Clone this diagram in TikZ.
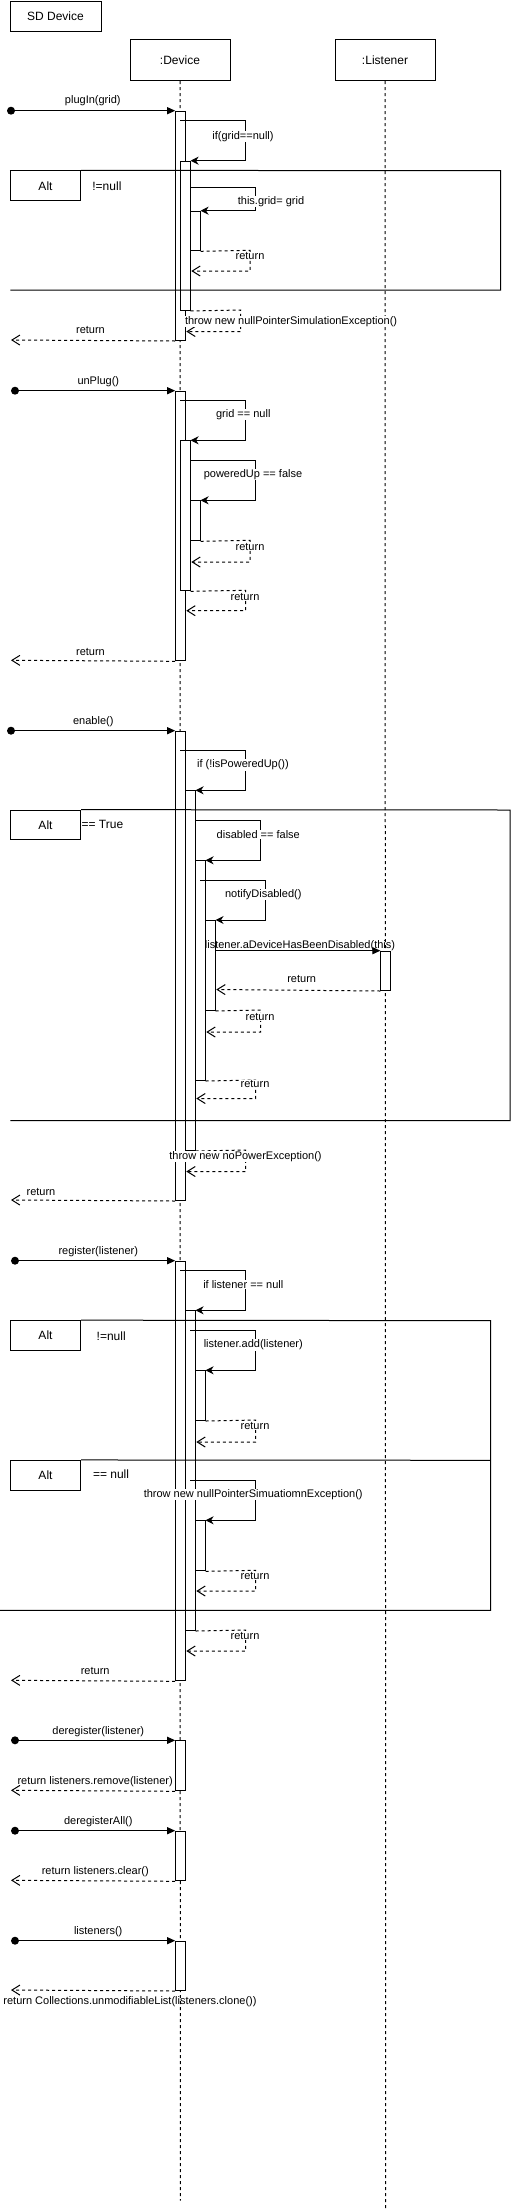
\documentclass[tikz,border=0pt]{standalone}
\usepackage{fontspec}
\setmainfont{Liberation Sans}
\usetikzlibrary{arrows.meta}
\begin{document}
\begin{tikzpicture}[x=1pt,y=-1pt,
 lbl/.style={font=\fontsize{11}{13}\selectfont, inner sep=0.5pt},
 wlbl/.style={lbl, fill=white},
 hdr/.style={draw, line width=1pt, font=\fontsize{12}{14}\selectfont, inner sep=0},
 actbox/.style={draw, fill=white, line width=1pt, minimum width=9.6pt, inner sep=0, anchor=north},
 life/.style={line width=1pt, dash pattern=on 3pt off 3pt},
 call/.style={line width=1pt, -{Triangle[length=8pt,width=7pt]}},
 selfmsg/.style={line width=1pt, -{Stealth[length=8pt,width=8pt]}},
 ret/.style={line width=1pt, dash pattern=on 3pt off 3pt, -{Straight Barb[length=8pt,width=10pt]}},
 frm/.style={line width=1pt},
 startdot/.style={circle, fill=black, inner sep=0, minimum size=8pt},
 altbox/.style={draw, fill=white, line width=1pt, minimum width=70.4pt, minimum height=29.7pt, inner sep=0, font=\fontsize{12}{14}\selectfont},
 cond/.style={font=\fontsize{12}{14}\selectfont, inner sep=0.5pt, anchor=west}
]
\useasboundingbox (0,0) rectangle (512,2211);

% headers
\node[hdr, minimum width=91pt, minimum height=30pt] (sd) at (55.5,16) {SD Device};
\node[hdr, minimum width=100pt, minimum height=40.7pt] (dev) at (180,60.3) {:Device};
\node[hdr, minimum width=100pt, minimum height=40.7pt] (lis) at (385,60.3) {:Listener};
\coordinate (devend) at (180.3,2200.7);
\coordinate (lisend) at (385.7,2208.3);
\draw[life] (dev.south) -- (devend);
\draw[life] (lis.south) -- (lisend);

% ---------- activations ----------
% plugIn
\node[actbox, minimum height=229.3pt] (pA1) at (180.5,110.7) {};
\node[actbox, minimum height=149.3pt] (pA2) at (185.3,160.7) {};
\node[actbox, minimum height=39.6pt] (pA3) at (195.3,210.7) {};
% unPlug
\node[actbox, minimum height=269.6pt] (uA1) at (180.5,390.7) {};
\node[actbox, minimum height=150pt] (uA2) at (185.3,440.3) {};
\node[actbox, minimum height=40pt] (uA3) at (195.3,500.3) {};
% enable
\node[actbox, minimum height=469.3pt] (eA1) at (180.5,730.7) {};
\node[actbox, minimum height=359.7pt] (eA2) at (190.3,790.3) {};
\node[actbox, minimum height=219.7pt] (eA3) at (200.3,860.3) {};
\node[actbox, minimum height=90pt] (eA4) at (210.3,920) {};
\node[actbox, minimum height=39.3pt] (eL) at (385.7,950.7) {};
% register
\node[actbox, minimum height=419.6pt] (rA1) at (180.5,1260.7) {};
\node[actbox, minimum height=319.7pt] (rA2) at (190.3,1310.3) {};
\node[actbox, minimum height=49.7pt] (rA3) at (200.3,1370.3) {};
\node[actbox, minimum height=50pt] (rA4) at (200.3,1520.3) {};
% others
\node[actbox, minimum height=50pt] (dA) at (180.5,1740.3) {};
\node[actbox, minimum height=49.6pt] (daA) at (180.5,1830.7) {};
\node[actbox, minimum height=49.3pt] (lA) at (180.5,1940.7) {};

% ---------- frames ----------
\node[altbox] (alt1) at (45.5,185.7) {Alt};
\node[cond] (c1) at (91.7,186) {!=null};
\draw[frm] (alt1.north east) -- (500.7,170.7) -- (500.7,290) -- (10.3,290);
\draw[frm] (alt1.north west) -- (alt1.north east);

\node[altbox] (alt2) at (45.5,825) {Alt};
\node[cond] (c2) at (80.9,824) {== True};
\draw[frm] (alt2.north east) -- (510,810) -- (510,1120.7) -- (10.3,1120.7);

\node[altbox] (alt3) at (45.5,1335.5) {Alt};
\node[cond] (c3) at (96,1336) {!=null};
\draw[frm] (alt3.north east) -- (490.7,1320.7) -- (490.7,1610.3) -- (0,1610.3);
\node[altbox] (alt4) at (45.5,1475.3) {Alt};
\node[cond] (c4) at (92.3,1473.7) {== null};
\draw[frm] (alt4.north east) -- (490.7,1460.3);

% ---------- plugIn ----------
\node[startdot] (d1) at (11,110.7) {};
\draw[call] (d1) -- (pA1.north west);
\node[lbl] at (92.8,100.7) {plugIn(grid)};
\coordinate (s1) at (180.3,120.7);
\draw[selfmsg] (s1) -- (245.7,120.7) -- (245.7,160.7) -- (pA2.north east);
\node[wlbl] at (243,136.7) {if(grid==null)};
\coordinate (s2) at (190.3,187.3);
\draw[selfmsg] (s2) -- (255.7,187.3) -- (255.7,210.7) -- (pA3.north east);
\node[wlbl] at (271,201.7) {this.grid= grid};
\coordinate (r1) at (191.3,271);
\draw[ret] (pA3.south east) -- (250,250.3) -- (250,271) -- (r1);
\node[wlbl] at (250,256.3) {return};
\coordinate (r2) at (186.3,331.5);
\draw[ret] (pA2.south east) -- (240.7,310) -- (240.7,331.5) -- (r2);
\node[wlbl, anchor=west] at (184.3,321.7) {throw new nullPointerSimulationException()};
\coordinate (e1) at (11,340);
\draw[ret] (pA1.south west) -- (e1);
\node[lbl] at (90.5,330) {return};

% ---------- unPlug ----------
\node[startdot] (d2) at (15,390.7) {};
\draw[call] (d2) -- (uA1.north west);
\node[lbl] at (98.3,381.7) {unPlug()};
\coordinate (s3) at (180.3,400.7);
\draw[selfmsg] (s3) -- (245.7,400.7) -- (245.7,440.3) -- (uA2.north east);
\node[wlbl] at (243.3,414.3) {grid == null};
\coordinate (s4) at (190.3,460.3);
\draw[selfmsg] (s4) -- (255.7,460.3) -- (255.7,500.3) -- (uA3.north east);
\node[wlbl] at (253,474.3) {poweredUp == false};
\coordinate (r3) at (191.3,562);
\draw[ret] (uA3.south east) -- (250,540.3) -- (250,562) -- (r3);
\node[wlbl] at (250,546.5) {return};
\coordinate (r4) at (186.3,610.7);
\draw[ret] (uA2.south east) -- (245.7,590.3) -- (245.7,610.7) -- (r4);
\node[wlbl] at (245,596.7) {return};
\coordinate (e2) at (11,660.3);
\draw[ret] (uA1.south west) -- (e2);
\node[lbl] at (90.5,651.7) {return};

% ---------- enable ----------
\node[startdot] (d3) at (11,730.7) {};
\draw[call] (d3) -- (eA1.north west);
\node[lbl] at (93.3,721.7) {enable()};
\coordinate (s5) at (180.3,750.7);
\draw[selfmsg] (s5) -- (245.7,750.7) -- (245.7,790.3) -- (eA2.north east);
\node[wlbl] at (243,765) {if (!isPoweredUp())};
\coordinate (s6) at (195.3,820.3);
\draw[selfmsg] (s6) -- (260.7,820.3) -- (260.7,860.3) -- (eA3.north east);
\node[wlbl] at (258.3,834.3) {disabled == false};
\coordinate (s7) at (200.3,880.3);
\draw[selfmsg] (s7) -- (265.7,880.3) -- (265.7,920) -- (eA4.north east);
\node[wlbl] at (263.3,894.3) {notifyDisabled()};
\coordinate (m1) at (215.3,950.7);
\draw[call] (m1) -- (eL.north west);
\node[lbl] at (300,945.2) {listener.aDeviceHasBeenDisabled(this)};
\coordinate (r5) at (216.3,989.5);
\draw[ret] (eL.south west) -- (r5);
\node[lbl] at (301.7,979.3) {return};
\coordinate (r6) at (206.3,1032);
\draw[ret] (eA4.south east) -- (260.7,1010) -- (260.7,1032) -- (r6);
\node[wlbl] at (260,1016.7) {return};
\coordinate (r7) at (196.3,1098.5);
\draw[ret] (eA3.south east) -- (255.7,1080) -- (255.7,1098.5) -- (r7);
\node[wlbl] at (255,1083.8) {return};
\coordinate (r8) at (186.3,1171.5);
\draw[ret] (eA2.south east) -- (245.7,1150) -- (245.7,1171.5) -- (r8);
\node[wlbl] at (245.5,1156.3) {throw new noPowerException()};
\coordinate (e3) at (11,1200);
\draw[ret] (eA1.south west) -- (e3);
\node[lbl] at (41,1191.7) {return};

% ---------- register ----------
\node[startdot] (d4) at (15,1260.7) {};
\draw[call] (d4) -- (rA1.north west);
\node[lbl] at (98.3,1251.7) {register(listener)};
\coordinate (s8) at (180.3,1270);
\draw[selfmsg] (s8) -- (245.7,1270) -- (245.7,1310.3) -- (rA2.north east);
\node[wlbl] at (243.3,1284.3) {if listener == null};
\coordinate (s9) at (190.3,1330.7);
\draw[selfmsg] (s9) -- (255.7,1330.7) -- (255.7,1370.3) -- (rA3.north east);
\node[wlbl] at (253.3,1345) {listener.add(listener)};
\coordinate (r9) at (196.3,1442);
\draw[ret] (rA3.south east) -- (255.7,1420) -- (255.7,1442) -- (r9);
\node[wlbl] at (255,1426.3) {return};
\coordinate (s10) at (190.3,1480.3);
\draw[selfmsg] (s10) -- (255.7,1480.3) -- (255.7,1520.3) -- (rA4.north east);
\node[wlbl] at (253.2,1494.3) {throw new nullPointerSimuatiomnException()};
\coordinate (r10) at (196.3,1591);
\draw[ret] (rA4.south east) -- (255.7,1570.3) -- (255.7,1591) -- (r10);
\node[wlbl] at (255,1576.3) {return};
\coordinate (r11) at (186.3,1651);
\draw[ret] (rA2.south east) -- (245.7,1630) -- (245.7,1651) -- (r11);
\node[wlbl] at (245,1636.3) {return};
\coordinate (e4) at (11,1680.3);
\draw[ret] (rA1.south west) -- (e4);
\node[lbl] at (95.2,1671) {return};

% ---------- deregister ----------
\node[startdot] (d5) at (15,1740.3) {};
\draw[call] (d5) -- (dA.north west);
\node[lbl] at (98.3,1731.3) {deregister(listener)};
\coordinate (e5) at (11,1790.3);
\draw[ret] (dA.south west) -- (e5);
\node[lbl] at (95.2,1781.7) {return listeners.remove(listener)};

% ---------- deregisterAll ----------
\node[startdot] (d6) at (15,1830.7) {};
\draw[call] (d6) -- (daA.north west);
\node[lbl] at (98.3,1821.7) {deregisterAll()};
\coordinate (e6) at (11,1880.3);
\draw[ret] (daA.south west) -- (e6);
\node[lbl] at (95.3,1871.7) {return listeners.clear()};

% ---------- listeners ----------
\node[startdot] (d7) at (15,1940.7) {};
\draw[call] (d7) -- (lA.north west);
\node[lbl] at (98.2,1931.7) {listeners()};
\coordinate (e7) at (11,1990);
\draw[ret] (lA.south west) -- (e7);
\node[lbl] at (130,2002) {return Collections.unmodifiableList(listeners.clone())};
\end{tikzpicture}
\end{document}
